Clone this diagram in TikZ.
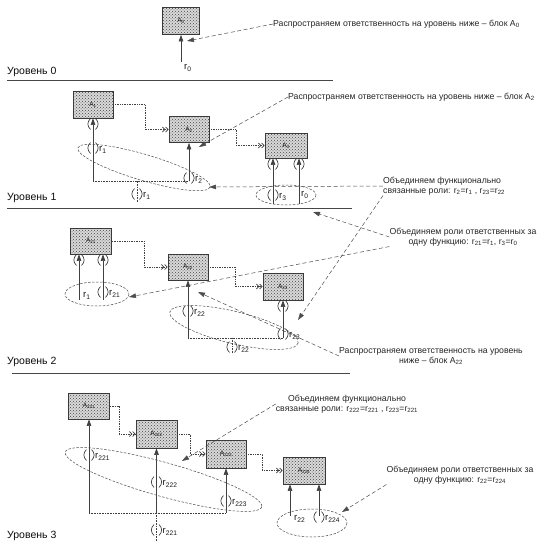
\documentclass[tikz,border=0pt]{standalone}
\usepackage{fontspec}
\setmainfont{Liberation Sans}
\usetikzlibrary{arrows.meta,patterns,calc}
\newcommand\myr[1]{r\textsubscript{#1}}
\newcommand\myA[1]{A\textsubscript{#1}}
\begin{document}
\begin{tikzpicture}[x=1pt,y=-1pt,
  blk/.style={draw=gray!45!black, line width=0.7pt, fill=gray!30,
    postaction={pattern=crosshatch dots, pattern color=gray!55!black},
    inner sep=0pt, font=\fontsize{6.5}{7}\selectfont, text=gray!15!black},
  stem/.style={draw=gray!50!black, line width=0.6pt, -{Triangle[length=6.5pt,width=4.5pt]}},
  flow/.style={draw=gray!50!black, line width=0.7pt, densely dotted,
    -{Straight Barb[length=2.5pt,width=5pt]Straight Barb[length=2.5pt,width=5pt]}},
  note/.style={draw=gray!60!black, line width=0.5pt, dash pattern=on 4pt off 2.5pt,
    -{Triangle[length=7pt,width=4.5pt]}},
  ell/.style={draw=gray!60!black, line width=0.5pt, dash pattern=on 2.5pt off 1.5pt},
  link/.style={draw=gray!50!black, line width=0.6pt, densely dotted},
  tunl/.style={draw=gray!35!black, line width=0.6pt},
  sep/.style={draw=gray!55!black, line width=0.8pt},
  lab/.style={font=\fontsize{9.5}{10}\selectfont, text=gray!20!black, inner sep=0pt, anchor=west},
  txt/.style={font=\fontsize{8.7}{10.5}\selectfont, text=gray!30!black, inner sep=0pt},
  lvl/.style={font=\fontsize{10.5}{12}\selectfont, text=gray!10!black, inner sep=0pt, anchor=west},
  tun/.pic={\draw[tunl] (-2.5,-5.5) .. controls (-6,-2) and (-6,2) .. (-2.5,5.5);
            \draw[tunl] (2.5,-5.5) .. controls (6,-2) and (6,2) .. (2.5,5.5);}
]
\useasboundingbox (0,0) rectangle (555,544);
\fill[white] (0,0) rectangle (555,544);

% ---------------- Level 0
\node[blk, minimum width=37pt, minimum height=27pt] (A0) at (181,21) {\myA{0}};
\coordinate (s0) at (181,62);
\draw[stem] (s0) -- (s0 |- A0.south);
\node[lab] (l0) at (184,68) {\myr{0}};
\node[txt, anchor=west] (T0) at (273,24) {Распространяем ответственность на уровень ниже – блок \myA{0}};
\coordinate (p0) at (187,41);
\draw[note] (T0.west) -- (p0);
\node[lvl] (L0) at (7,72) {Уровень 0};
\draw[sep] (7,80) -- (333,80);

% ---------------- Level 1
\node[blk, minimum width=40pt, minimum height=27pt] (A1) at (93,104.5) {\myA{1}};
\node[blk, minimum width=40pt, minimum height=26pt] (A2) at (189,129.5) {\myA{2}};
\node[blk, minimum width=42pt, minimum height=25pt] (A3) at (286,145.5) {\myA{3}};
\draw[flow] (A1.east) -- ++(32,0) |- (A2.west);
\draw[flow] (A2.east) -- ++(27,0) |- (A3.west);
\coordinate (j1a) at (93,181);
\coordinate (j1b) at (189,181);
\coordinate (j1c) at (137,181);
\coordinate (src1) at (137,202);
\draw[stem] (j1a) -- (A1.south);
\draw[stem] (j1b) -- (A2.south);
\draw[link] (j1a) -- (j1b);
\draw[link] (src1) -- (j1c);
\pic at (93,124) {tun};
\pic at (93,148) {tun};
\node[lab] (l1a) at (99,150) {\myr{1}};
\pic at (189,178) {tun};
\node[lab] (l1b) at (195,180) {\myr{2}};
\pic at (137,194) {tun};
\node[lab] (l1c) at (143,196) {\myr{1}};
\coordinate (s3a) at (273,204);
\coordinate (s3b) at (299,204);
\draw[stem] (s3a) -- (s3a |- A3.south);
\draw[stem] (s3b) -- (s3b |- A3.south);
\pic at (273,164) {tun};
\pic at (299,164) {tun};
\pic at (273,195) {tun};
\node[lab] (l1d) at (279,197) {\myr{3}};
\node[lab] (l1e) at (301,195) {\myr{0}};
\draw[ell] (286,195) ellipse (30 and 10);
\draw[ell, rotate around={-16.5:(144,167.5)}] (144,167.5) ellipse (69 and 13);

\node[txt, anchor=west] (T1) at (288,97) {Распространяем ответственность на уровень ниже – блок \myA{2}};
\coordinate (p1) at (199,147);
\draw[note] (T1.west) -- (p1);
\node[txt, anchor=west, align=left] (T1b) at (383,186) {Объединяем функционально\\связанные роли: \myr{2}=\myr{1} , \myr{23}=\myr{22}};
\coordinate (e1) at (209,187);
\draw[note] (T1b.west) -- (e1);
\node[lvl] (L1) at (7,198) {Уровень 1};
\draw[sep] (7,208) -- (352,208);

\node[txt, align=center] (T12) at (463,237) {Объединяем роли ответственных за\\одну функцию: \myr{21}=\myr{1}, \myr{3}=\myr{0}};
\coordinate (e13) at (313,212);
\draw[note] (T12.west) -- (e13);

% ---------------- Level 2
\node[blk, minimum width=41pt, minimum height=26pt] (A21) at (91,241) {\myA{21}};
\node[blk, minimum width=40pt, minimum height=26pt] (A22) at (188,267) {\myA{22}};
\node[blk, minimum width=40pt, minimum height=27pt] (A23) at (283,286.5) {\myA{23}};
\draw[flow] (A21.east) -- ++(32,0) |- (A22.west);
\draw[flow] (A22.east) -- ++(27,0) |- (A23.west);
\coordinate (s21a) at (79,300);
\coordinate (s21b) at (103,300);
\draw[stem] (s21a) -- (s21a |- A21.south);
\draw[stem] (s21b) -- (s21b |- A21.south);
\pic at (79,260) {tun};
\pic at (103,260) {tun};
\node[lab] (l2a) at (83,296) {\myr{1}};
\pic at (103,292) {tun};
\node[lab] (l2b) at (109,294) {\myr{21}};
\draw[ell] (97,294) ellipse (32 and 12);
\coordinate (e21) at (129,297);
\draw[note] (T12.south west) -- (e21);

\coordinate (j2a) at (188,338);
\coordinate (j2b) at (283,338);
\coordinate (j2c) at (232,338);
\coordinate (src2) at (232,353);
\draw[stem] (j2a) -- (A22.south);
\draw[stem] (j2b) -- (A23.south);
\draw[link] (j2a) -- (j2b);
\draw[link] (src2) -- (j2c);
\pic at (283,306) {tun};
\pic at (188,311) {tun};
\node[lab] (l2c) at (194,313) {\myr{22}};
\pic at (283,334) {tun};
\node[lab] (l2d) at (289,336) {\myr{23}};
\pic at (232,347) {tun};
\node[lab] (l2e) at (238,349) {\myr{22}};
\draw[ell, rotate around={-13.6:(234,327.5)}] (234,327.5) ellipse (66 and 16);
\coordinate (e22) at (298,320);
\draw[note] (T1b.south west) -- (e22);

\node[txt, align=center] (T2) at (431,356) {Распространяем ответственность на уровень\\ниже – блок \myA{22}};
\coordinate (p2) at (198,292);
\draw[note] (T2.west) -- (p2);
\node[lvl] (L2) at (7,362) {Уровень 2};
\draw[sep] (12,373) -- (350,373);

% ---------------- Level 3
\node[blk, minimum width=41pt, minimum height=26pt] (A221) at (89,406) {\myA{221}};
\node[blk, minimum width=41pt, minimum height=28pt] (A222) at (156.5,434) {\myA{222}};
\node[blk, minimum width=40pt, minimum height=28pt] (A223) at (226,454) {\myA{223}};
\node[blk, minimum width=42pt, minimum height=27pt] (A224) at (304,470.5) {\myA{224}};
\draw[flow] (A221.east) -- ++(9,0) |- (A222.west);
\draw[flow] (A222.east) -- ++(13,0) |- (A223.west);
\draw[flow] (A223.east) -- ++(16,0) |- (A224.west);
\coordinate (j3a) at (89,513);
\coordinate (j3b) at (156.5,513);
\coordinate (j3c) at (226,513);
\coordinate (src3) at (156.5,541);
\draw[stem] (j3a) -- (A221.south);
\draw[stem] (j3b) -- (A222.south);
\draw[stem] (j3c) -- (A223.south);
\draw[link] (j3a) -- (j3c);
\draw[link] (src3) -- (j3b);
\pic at (89,455) {tun};
\node[lab] (l3a) at (95,457) {\myr{221}};
\pic at (156.5,482) {tun};
\node[lab] (l3b) at (162.5,484) {\myr{222}};
\pic at (226,501) {tun};
\node[lab] (l3c) at (232,503) {\myr{223}};
\pic at (156.5,530) {tun};
\node[lab] (l3d) at (162.5,532) {\myr{221}};
\draw[ell, rotate around={-15.6:(163.5,479.5)}] (163.5,479.5) ellipse (102 and 17);

\coordinate (s4a) at (290,516);
\coordinate (s4b) at (319,516);
\draw[stem] (s4a) -- (s4a |- A224.south);
\draw[stem] (s4b) -- (s4b |- A224.south);
\node[lab] (l3e) at (294,519) {\myr{22}};
\pic at (319,517) {tun};
\node[lab] (l3f) at (325,519) {\myr{224}};
\draw[ell] (312,523) ellipse (35 and 14);

\node[txt, align=center] (T3a) at (347,404) {Объединяем функционально\\связанные роли: \myr{222}=\myr{221} , \myr{223}=\myr{221}};
\coordinate (p3) at (182,461);
\draw[note] (T3a.west) -- (p3);
\node[txt, align=center] (T3b) at (460,475) {Объединяем роли ответственных за\\одну функцию: \myr{22}=\myr{224}};
\coordinate (p3b) at (342,512);
\draw[note] (T3b.south west) -- (p3b);
\node[lvl] (L3) at (7,536) {Уровень 3};
\end{tikzpicture}
\end{document}
